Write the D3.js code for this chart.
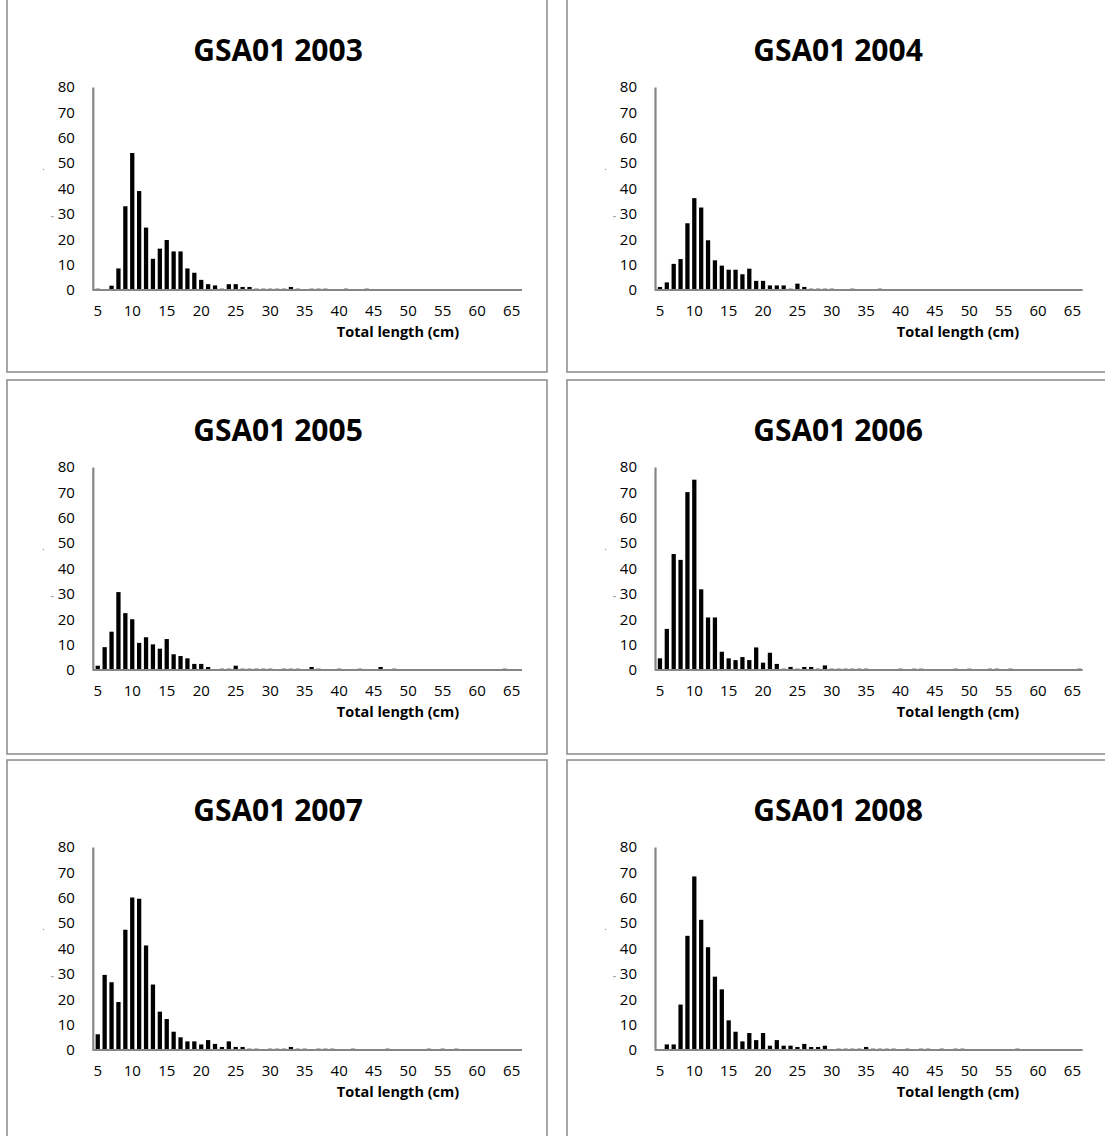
<!DOCTYPE html>
<html>
<head>
<meta charset="utf-8">
<script src="https://cdn.jsdelivr.net/npm/d3@7"></script>
<style>
  html, body { margin: 0; padding: 0; background: #fff; }
  svg { display: block; }
</style>
</head>
<body>
<script>
// Length classes (cm), one bar per class
const lengthClasses = [5,6,7,8,9,10,11,12,13,14,15,16,17,18,19,20,21,22,23,24,25,26,27,28,29,30,
  31,32,33,34,35,36,37,38,39,40,41,42,43,44,45,46,47,48,49,50,51,52,53,54,55,56,57,58,59,60,
  61,62,63,64,65,66];
const xTickLabels = [5,10,15,20,25,30,35,40,45,50,55,60,65];
const yTickLabels = [0,10,20,30,40,50,60,70,80];
const panelTitles = ["GSA01 2003","GSA01 2004","GSA01 2005","GSA01 2006","GSA01 2007","GSA01 2008"];
const xAxisTitle = "Total length (cm)";

// Frequencies per length class, 5 cm .. 66 cm
const freq2003 = [0.5,0,1.7,8.5,33,54,39,24.6,12.3,16.3,
  19.7,15.2,15.2,8.5,6.8,4,2.3,1.8,0.5,2.3,
  2.3,1.2,1.2,0.5,0.5,0.5,0.5,0.5,1.2,0.5,
  0,0.5,0.5,0.5,0,0,0.5,0,0,0.5,
  0,0,0,0,0,0,0,0,0,0,
  0,0,0,0,0,0,0,0,0,0,
  0,0];
const freq2004 = [1.2,3.0,10.3,12.2,26.3,36.2,32.5,19.6,11.7,9.6,
  8,8,6.2,8.4,3.6,3.6,1.8,1.8,1.8,0.5,
  2.5,1.2,0.5,0.5,0.5,0.5,0,0,0.5,0,
  0,0,0.5,0,0,0,0,0,0,0,
  0,0,0,0,0,0,0,0,0,0,
  0,0,0,0,0,0,0,0,0,0,
  0,0];
const freq2005 = [1.7,9,15.1,30.7,22.4,20,10.7,12.9,10.1,8.4,
  12.2,6.2,5.5,4.6,2.4,2.4,1.2,0,0.5,0.5,
  1.7,0.5,0.5,0.5,0.5,0.5,0,0.5,0.5,0.5,
  0,1.2,0.5,0,0,0.5,0,0,0.5,0,
  0,1.2,0,0.5,0,0,0,0,0,0,
  0,0,0,0,0,0,0,0,0,0.5,
  0,0];
const freq2006 = [4.6,16.2,45.7,43.4,70.1,75,31.8,20.7,20.7,7.2,
  4.6,3.9,5.1,3.9,8.9,2.9,6.8,2.4,0.5,1.2,
  0.5,1.2,1.2,0.5,1.8,0.5,0.5,0.5,0.5,0.5,
  0.5,0,0,0,0,0.5,0,0.5,0.5,0,
  0,0,0,0.5,0,0.5,0,0,0.5,0.5,
  0,0.5,0,0,0,0,0,0,0,0,
  0,0.5];
const freq2007 = [6.2,29.6,26.7,18.9,47.4,60.1,59.6,41.2,25.8,15.1,
  12.2,7.2,5,3.4,3.4,2.2,3.9,2.4,1.2,3.4,
  1.2,1.2,0.5,0.5,0,0.5,0.5,0.5,1.2,0.5,
  0.5,0,0.5,0.5,0.5,0,0,0.5,0,0,
  0,0,0.5,0,0,0,0,0,0.5,0,
  0.5,0,0.5,0,0,0,0,0,0,0,
  0,0];
const freq2008 = [0,2.2,2.2,17.9,45,68.4,51.3,40.5,28.9,23.9,
  11.7,7.2,3.4,6.7,3.9,6.7,1.7,3.9,1.7,1.7,
  1.2,2.4,1.2,1.2,1.7,0,0.5,0.5,0.5,0.5,
  1.2,0.5,0.5,0.5,0.5,0,0.5,0,0.5,0.5,
  0,0.5,0,0.5,0.5,0,0,0,0,0,
  0,0,0.5,0,0,0,0,0,0,0,
  0,0];

const panelSeries = [freq2003, freq2004, freq2005, freq2006, freq2007, freq2008];

const W = 1105, H = 1136;
const svg = d3.select("body").append("svg").attr("width", W).attr("height", H);

// Column / row placement of the six panels
const boxX = [7, 567], boxW = 540;
const rowY = [-2, 380, 760], boxH = 374;
const plotLeft = [94.3, 656.5], plotRight = [522, 1082.7];
const rowShift = 380;
const axisGray = "#868686";
const tickFont = "'Open Sans', sans-serif";

panelSeries.forEach((series, p) => {
  const col = p % 2, row = Math.floor(p / 2);
  const g = svg.append("g");
  const dy = row * rowShift;

  // panel frame
  g.append("rect")
    .attr("x", boxX[col]).attr("y", rowY[row])
    .attr("width", boxW).attr("height", row === 2 ? 400 : boxH)
    .attr("fill", "none").attr("stroke", "#8a8a8a").attr("stroke-width", 1.5);

  const x = d3.scaleBand()
    .domain(lengthClasses)
    .range([plotLeft[col], plotRight[col]])
    .paddingInner(0.38).paddingOuter(0.19);
  const y = d3.scaleLinear().domain([0, 80]).range([290 + dy, 87 + dy]);

  // bars
  g.append("g").selectAll("rect")
    .data(lengthClasses.map((c, i) => ({ c, v: series[i] })).filter(d => d.v > 0))
    .join("rect")
    .attr("x", d => x(d.c))
    .attr("width", x.bandwidth())
    .attr("y", d => y(d.v))
    .attr("height", d => y(0) - y(d.v))
    .attr("fill", "#000");

  const axisX0 = plotLeft[col] - 1.5;

  // y axis
  const yAxis = g.append("g")
    .attr("transform", `translate(${axisX0},0)`)
    .call(d3.axisLeft(y).tickValues(yTickLabels).tickSize(0).tickPadding(18).tickFormat(d3.format("d")));
  yAxis.select(".domain").attr("stroke", axisGray).attr("stroke-width", 2.2);
  yAxis.selectAll("text").attr("font-family", tickFont).attr("font-size", 15).attr("fill", "#000");

  // x axis
  const xAxis = g.append("g")
    .attr("transform", `translate(0,${y(0)})`)
    .call(d3.axisBottom(x).tickValues(xTickLabels).tickSize(0).tickPadding(15));
  xAxis.select(".domain")
    .attr("d", `M${axisX0},0H${plotRight[col]}`)
    .attr("stroke", axisGray).attr("stroke-width", 2.2);
  xAxis.selectAll("text").attr("font-family", tickFont).attr("font-size", 15).attr("fill", "#000");

  // panel title
  g.append("text")
    .attr("x", boxX[col] + 271).attr("y", 61 + dy)
    .attr("text-anchor", "middle")
    .attr("font-family", tickFont).attr("font-weight", "bold").attr("font-size", 30)
    .text(panelTitles[p]);

  // x axis title
  g.append("text")
    .attr("x", boxX[col] + 391).attr("y", 337 + dy)
    .attr("text-anchor", "middle")
    .attr("font-family", tickFont).attr("font-weight", "bold").attr("font-size", 14.5)
    .text(xAxisTitle);

  // faint remnants of the hidden y-axis title
  g.append("line")
    .attr("x1", plotLeft[col] - 43.5).attr("x2", plotLeft[col] - 40.5)
    .attr("y1", 216.7 + dy).attr("y2", 216.7 + dy)
    .attr("stroke", "#999").attr("stroke-width", 1);
  g.append("circle")
    .attr("cx", plotLeft[col] - 51).attr("cy", 169.5 + dy).attr("r", 0.7)
    .attr("fill", "#999");
});
</script>
</body>
</html>
